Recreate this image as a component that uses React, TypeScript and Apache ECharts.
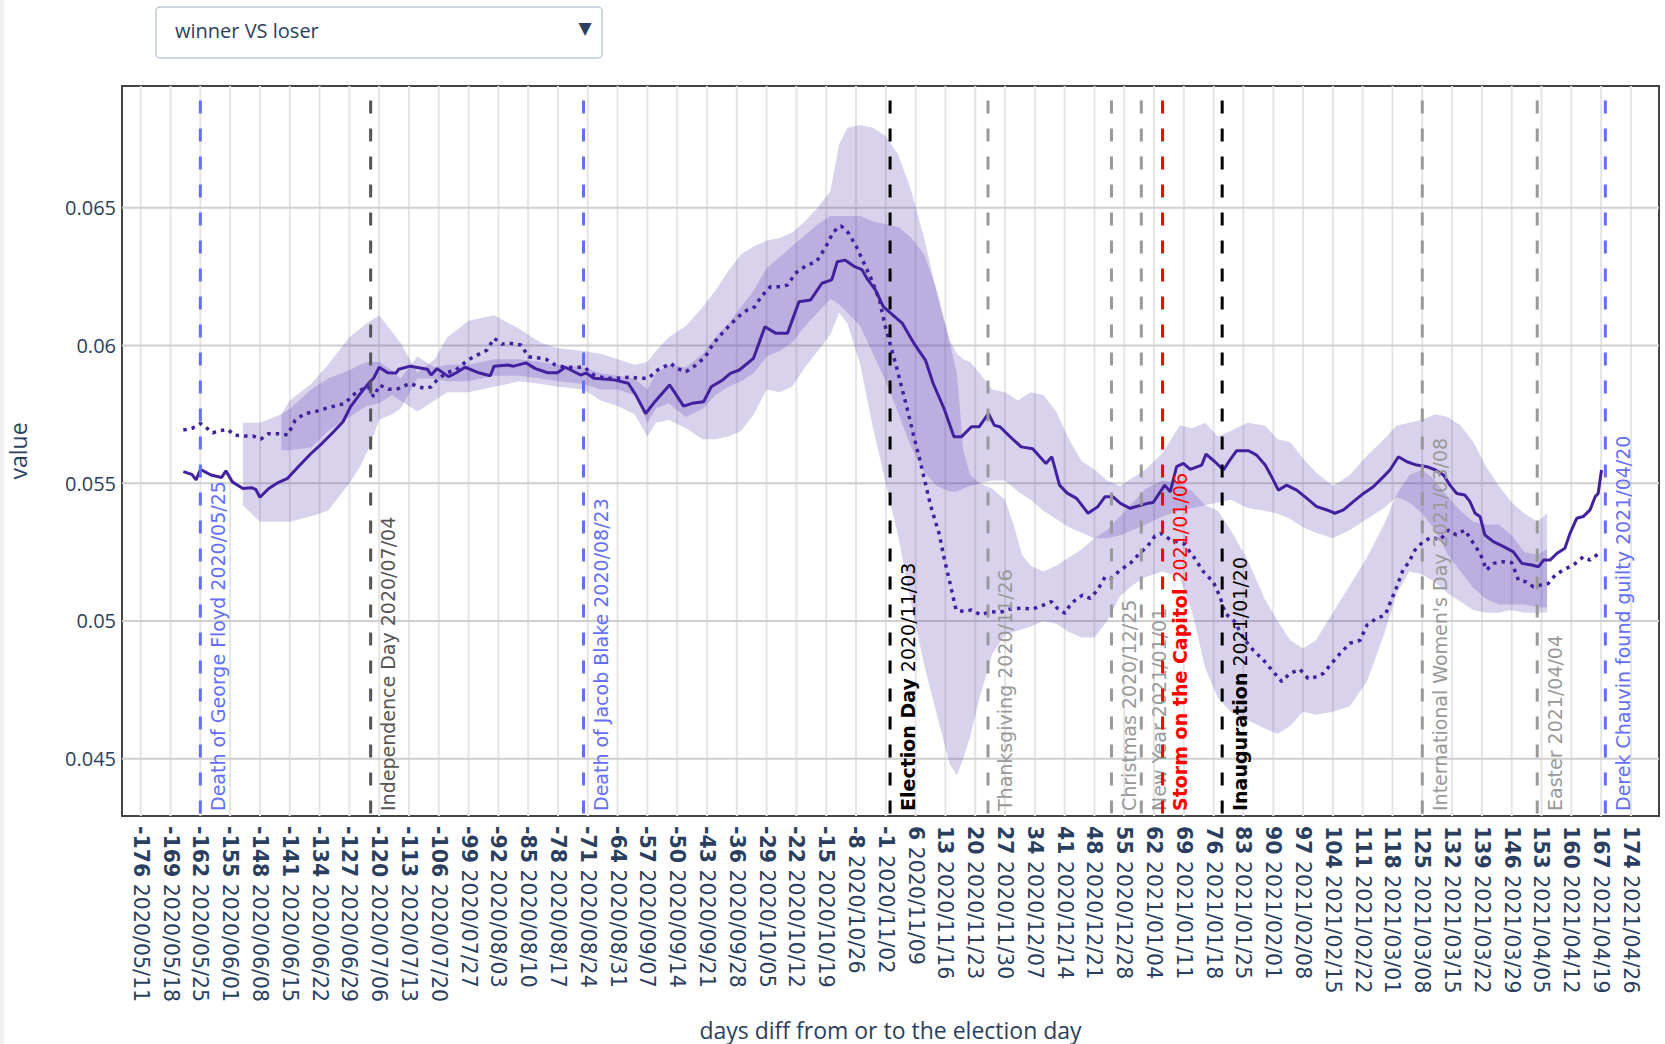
import React, { useEffect, useRef } from "react";
import * as echarts from "echarts";

// ---------- axes ----------
const X_MIN = -180.4;
const X_MAX = 180.6;
const Y_MIN = 0.04292;
const Y_MAX = 0.06942;
const EVENT_TOP = 0.06889;

const xTickDays = [
  -176, -169, -162, -155, -148, -141, -134, -127, -120, -113, -106, -99, -92, -85, -78, -71, -64,
  -57, -50, -43, -36, -29, -22, -15, -8, -1, 6, 13, 20, 27, 34, 41, 48, 55, 62, 69, 76, 83, 90, 97,
  104, 111, 118, 125, 132, 139, 146, 153, 160, 167, 174,
];
const xTickDates = [
  "2020/05/11", "2020/05/18", "2020/05/25", "2020/06/01", "2020/06/08", "2020/06/15", "2020/06/22",
  "2020/06/29", "2020/07/06", "2020/07/13", "2020/07/20", "2020/07/27", "2020/08/03", "2020/08/10",
  "2020/08/17", "2020/08/24", "2020/08/31", "2020/09/07", "2020/09/14", "2020/09/21", "2020/09/28",
  "2020/10/05", "2020/10/12", "2020/10/19", "2020/10/26", "2020/11/02", "2020/11/09", "2020/11/16",
  "2020/11/23", "2020/11/30", "2020/12/07", "2020/12/14", "2020/12/21", "2020/12/28", "2021/01/04",
  "2021/01/11", "2021/01/18", "2021/01/25", "2021/02/01", "2021/02/08", "2021/02/15", "2021/02/22",
  "2021/03/01", "2021/03/08", "2021/03/15", "2021/03/22", "2021/03/29", "2021/04/05", "2021/04/12",
  "2021/04/19", "2021/04/26",
];
const yTickValues = [0.045, 0.05, 0.055, 0.06, 0.065];

// ---------- series: [day, value] ----------
const winnerLine = [
  [-166, 0.05542], [-164, 0.05532], [-163, 0.05512], [-162, 0.0555], [-159.5, 0.0553], [-157, 0.05521],
  [-156, 0.05545], [-154.5, 0.05505], [-152, 0.05481], [-150, 0.05484], [-149, 0.05478], [-148, 0.05449],
  [-146, 0.0548], [-144, 0.055], [-141.5, 0.05518], [-139, 0.0556], [-136, 0.05608], [-133.4, 0.05645],
  [-130.7, 0.05687], [-128.5, 0.05723], [-126.7, 0.05778], [-124.4, 0.05826], [-122.2, 0.05868],
  [-121.3, 0.05881], [-120, 0.05921], [-118, 0.05901], [-116, 0.059], [-115.4, 0.05914], [-112.7, 0.05925],
  [-108.7, 0.05914], [-107.8, 0.05893], [-106.4, 0.05916], [-103.7, 0.05887], [-101.9, 0.05901],
  [-99.8, 0.05921], [-96.6, 0.05901], [-93.9, 0.0589], [-93, 0.05925], [-89.8, 0.05929], [-88.4, 0.05925],
  [-85.5, 0.05937], [-83.3, 0.05916], [-80.4, 0.05901], [-78.1, 0.05901], [-76.3, 0.05921], [-72.7, 0.05893],
  [-71.4, 0.059], [-69.6, 0.05881], [-65.1, 0.05876], [-61.5, 0.05863], [-59.7, 0.0582], [-57.4, 0.05753],
  [-55.2, 0.05797], [-51.8, 0.05857], [-50.6, 0.0583], [-48.5, 0.0578], [-46.5, 0.0579], [-43.8, 0.05796],
  [-42, 0.0585], [-39.3, 0.05875], [-37.5, 0.05899], [-35.4, 0.05911], [-32.1, 0.05953], [-29.4, 0.06068],
  [-26.8, 0.06044], [-24.1, 0.06044], [-21.4, 0.06159], [-18.7, 0.06165], [-16, 0.06226], [-13.7, 0.06238],
  [-12.4, 0.06304], [-10.6, 0.0631], [-8.3, 0.06286], [-6.6, 0.06275], [-5.2, 0.06238], [-3.4, 0.06201],
  [-1.6, 0.06141], [0.2, 0.06117], [2.9, 0.0608], [5.6, 0.06008], [8.3, 0.05947], [10.1, 0.05863],
  [12.8, 0.05766], [15, 0.05669], [16.8, 0.05669], [19.1, 0.05705], [20.9, 0.05705], [23.1, 0.05753],
  [24.5, 0.0571], [25.8, 0.05705], [28.1, 0.0567], [30.8, 0.05632], [33.5, 0.05625], [36.6, 0.05572],
  [38, 0.05596], [39.8, 0.05493], [41.6, 0.05464], [43.8, 0.05445], [46.5, 0.05391], [48.8, 0.05415],
  [50.5, 0.05451], [52.3, 0.05451], [54.1, 0.05427], [56.4, 0.05409], [60.5, 0.05427], [61.8, 0.0543],
  [64.5, 0.05493], [65.8, 0.05469], [67.3, 0.0556], [68.9, 0.05572], [70.5, 0.0555], [73.2, 0.05566],
  [74.2, 0.05606], [76.3, 0.05578], [78.3, 0.05548], [79.8, 0.05584], [81.4, 0.05618], [84.2, 0.05618],
  [86.1, 0.05602], [88.1, 0.05566], [89.6, 0.05524], [91.2, 0.05475], [93.1, 0.05493], [95.5, 0.05475],
  [97.9, 0.05445], [100.2, 0.05415], [102.6, 0.05403], [104.5, 0.05391], [106.5, 0.05403], [108.8, 0.05433],
  [111.2, 0.05463], [113.5, 0.05487], [115.9, 0.05524], [117.4, 0.05548], [119.4, 0.05596], [121.4, 0.05578],
  [123.7, 0.05566], [126.1, 0.0556], [128.1, 0.05548], [130, 0.0553], [131.5, 0.05493], [133.1, 0.05463],
  [135, 0.05457], [136.2, 0.05433], [137.4, 0.05391], [138.6, 0.05378], [139.7, 0.05312], [141.7, 0.05288],
  [144.1, 0.0527], [146.4, 0.05251], [148.4, 0.05209], [150.7, 0.05203], [152.3, 0.05197], [153.5, 0.05221],
  [155, 0.05221], [156.6, 0.05245], [158.5, 0.05264], [159.7, 0.05318], [161.3, 0.05373], [162.8, 0.05379],
  [164.4, 0.05403], [165.6, 0.05451], [166.3, 0.05463], [167.1, 0.05548],
];

const loserLine = [
  [-166, 0.05693], [-164, 0.05699], [-162, 0.05717], [-160.4, 0.05699], [-159.1, 0.05683], [-157.7, 0.0569],
  [-155.5, 0.05695], [-154.1, 0.05675], [-151.4, 0.05671], [-149.6, 0.05671], [-147.8, 0.0566], [-146, 0.0568],
  [-143.3, 0.0568], [-141.5, 0.05675], [-139.7, 0.05729], [-137.5, 0.05753], [-135.2, 0.05759],
  [-132.5, 0.05772], [-129.8, 0.05783], [-128, 0.0579], [-126.2, 0.0582], [-124.4, 0.05838], [-122.6, 0.0585],
  [-121.3, 0.05814], [-119.9, 0.05856], [-117.7, 0.05841], [-115.4, 0.05844], [-112.7, 0.05863],
  [-110.9, 0.0585], [-109.1, 0.05844], [-107.8, 0.0585], [-106.4, 0.05875], [-104.2, 0.05901], [-102, 0.05911],
  [-99.2, 0.05947], [-97, 0.05965], [-94.7, 0.05983], [-93, 0.06026], [-91.2, 0.06005], [-89.4, 0.06008],
  [-86.7, 0.06002], [-84.9, 0.05959], [-83.1, 0.05956], [-80.8, 0.0595], [-78.6, 0.05929], [-76.3, 0.05921],
  [-74.1, 0.05921], [-71.8, 0.05921], [-69.6, 0.05893], [-66.9, 0.05881], [-64.2, 0.05881], [-61.1, 0.05885],
  [-58.8, 0.05881], [-56.8, 0.05881], [-54.6, 0.05911], [-51.5, 0.05935], [-50.1, 0.05917], [-47.9, 0.05905],
  [-45.6, 0.05929], [-43.4, 0.05959], [-42, 0.05995], [-40.2, 0.06032], [-38, 0.06068], [-35.7, 0.06104],
  [-33.5, 0.06129], [-31.7, 0.06141], [-30.3, 0.06177], [-28.1, 0.06213], [-25.8, 0.06213], [-24, 0.0622],
  [-22.3, 0.06262], [-19.5, 0.06292], [-17.3, 0.06304], [-15.1, 0.06358], [-13.3, 0.06413], [-11.5, 0.06434],
  [-9.7, 0.06407], [-7.9, 0.06358], [-6.1, 0.06298], [-4.3, 0.06238], [-2.5, 0.06165], [-1.1, 0.06068],
  [0.2, 0.05995], [1.5, 0.05923], [2.9, 0.05838], [4.3, 0.05753], [5.6, 0.05669], [6.9, 0.0559],
  [8.3, 0.055], [9.5, 0.0542], [11.5, 0.05318], [12.8, 0.05221], [14.1, 0.05136], [15.5, 0.0504],
  [17.3, 0.05034], [19.1, 0.0504], [21.3, 0.05022], [23.6, 0.05034], [25.8, 0.05031], [28.1, 0.05043],
  [30.8, 0.05046], [33.5, 0.05043], [36.1, 0.05058], [37.9, 0.0507], [39.3, 0.05046], [41.1, 0.05028],
  [42.5, 0.05064], [45.2, 0.05094], [47, 0.05082], [48.7, 0.05112], [50.5, 0.0516], [51.9, 0.05155],
  [54.1, 0.05185], [56.4, 0.05209], [58.6, 0.05245], [60.4, 0.0527], [62.2, 0.05308], [63.8, 0.05318],
  [65.9, 0.05294], [68.9, 0.05282], [71.3, 0.05233], [73.6, 0.05179], [75.9, 0.05142], [77.5, 0.05088],
  [78.7, 0.05028], [81, 0.04997], [83, 0.04937], [85.3, 0.04894], [87.7, 0.04858], [90, 0.04816],
  [92, 0.0478], [93.9, 0.0481], [96.3, 0.04824], [98.2, 0.04791], [100.2, 0.04797], [101.8, 0.0481],
  [103.7, 0.04846], [105.7, 0.04882], [108, 0.04919], [110.4, 0.0493], [112, 0.04985], [114.3, 0.0501],
  [116.3, 0.05021], [117.4, 0.05064], [119, 0.05124], [120.6, 0.05191], [121.7, 0.05209], [123.3, 0.05258],
  [125.2, 0.05288], [127.2, 0.05304], [129.2, 0.05294], [131.1, 0.0533], [133, 0.05312], [135, 0.0533],
  [137, 0.05282], [138.6, 0.05245], [140.1, 0.05185], [141.7, 0.05209], [144.1, 0.05215], [146, 0.05212],
  [147.6, 0.05148], [149.5, 0.05142], [151.1, 0.05124], [152.7, 0.0513], [154.6, 0.05136], [156.2, 0.05166],
  [158.1, 0.05185], [160.5, 0.05203], [162.8, 0.05233], [164.4, 0.05221], [166.3, 0.05243],
];

// ---------- confidence bands: [day, lower, upper] ----------
const winnerBand = [
  [-152, 0.0542, 0.0572], [-148, 0.0536, 0.0572], [-143, 0.0536, 0.0575], [-141, 0.0536, 0.0577],
  [-136, 0.0538, 0.0584], [-132, 0.054, 0.0588], [-127, 0.055, 0.0591], [-124.5, 0.0556, 0.0593],
  [-122.6, 0.0562, 0.0594], [-120, 0.0573, 0.0594], [-117, 0.0575, 0.0591], [-115, 0.0577, 0.0588],
  [-111, 0.0588, 0.0596], [-107, 0.0588, 0.0592], [-104, 0.0587, 0.0593], [-99, 0.0587, 0.0593],
  [-93, 0.0589, 0.0595], [-87, 0.0589, 0.0595], [-82, 0.0588, 0.0594], [-78, 0.0587, 0.0593],
  [-72, 0.0586, 0.0592], [-68, 0.0584, 0.059], [-64, 0.0584, 0.0589], [-60, 0.0582, 0.0588],
  [-57, 0.0572, 0.0584], [-55, 0.0577, 0.059], [-52, 0.0579, 0.0593], [-48, 0.0574, 0.0592],
  [-44, 0.0577, 0.0597], [-41, 0.0582, 0.0603], [-38, 0.0585, 0.0608], [-35, 0.0587, 0.0614],
  [-32, 0.059, 0.062], [-29, 0.0596, 0.0628], [-26, 0.0598, 0.0632], [-23, 0.0601, 0.0636],
  [-20, 0.0607, 0.064], [-17, 0.0612, 0.0644], [-14, 0.0617, 0.0647], [-12, 0.0615, 0.0647],
  [-10, 0.0612, 0.0647], [-7, 0.0607, 0.0647], [-4, 0.0597, 0.0645], [-1, 0.0587, 0.0644],
  [2, 0.0575, 0.0643], [5, 0.0563, 0.0639], [8, 0.0554, 0.0633], [11, 0.0549, 0.062],
  [14, 0.0547, 0.0602], [15.7, 0.0547, 0.0597], [17.2, 0.0548, 0.0595], [18.8, 0.0549, 0.0594],
  [21, 0.0550, 0.059], [24, 0.0551, 0.0584], [27, 0.0551, 0.0583], [30, 0.0547, 0.058],
  [33, 0.0544, 0.0583], [36, 0.054, 0.0582], [39, 0.0537, 0.0576], [42, 0.0534, 0.0566],
  [45, 0.0532, 0.0558], [48, 0.053, 0.0555], [51, 0.053, 0.0551], [54, 0.0531, 0.0549],
  [57, 0.0533, 0.0552], [60, 0.0535, 0.0555], [64, 0.0538, 0.0561], [68, 0.054, 0.0571],
  [71, 0.0541, 0.057], [74, 0.0542, 0.0572], [77, 0.0543, 0.0567], [80, 0.0544, 0.0569],
  [84, 0.0541, 0.0572], [88, 0.054, 0.0571], [91, 0.0539, 0.0566], [94, 0.0537, 0.0565],
  [97, 0.0534, 0.0559], [100, 0.0532, 0.0554], [104, 0.053, 0.0549], [108, 0.0533, 0.0553],
  [112, 0.0537, 0.056], [116, 0.0541, 0.0566], [119, 0.0545, 0.0571], [122, 0.0543, 0.0572],
  [125, 0.0539, 0.0573], [128, 0.0533, 0.0575], [131, 0.0524, 0.0574], [134, 0.0518, 0.0571],
  [137, 0.0512, 0.0565], [140, 0.0508, 0.0556], [143, 0.0506, 0.0549], [146, 0.0506, 0.0543],
  [149, 0.0506, 0.0539], [152, 0.0505, 0.0536], [154.3, 0.0505, 0.0539],
];

const loserBand = [
  [-143, 0.0562, 0.0575], [-141, 0.0562, 0.058], [-136, 0.0563, 0.0586], [-132, 0.0569, 0.0593],
  [-127, 0.0574, 0.0603], [-123, 0.0578, 0.0608], [-120, 0.0579, 0.0611], [-117, 0.0582, 0.0605],
  [-115, 0.058, 0.0601], [-111, 0.0576, 0.059], [-107, 0.058, 0.0595], [-104, 0.0583, 0.0603],
  [-99, 0.0583, 0.0609], [-93, 0.0585, 0.0611], [-87, 0.0587, 0.0606], [-82, 0.0586, 0.0601],
  [-78, 0.0585, 0.0599], [-72, 0.0584, 0.0598], [-68, 0.058, 0.0597], [-64, 0.0578, 0.0595],
  [-60, 0.0575, 0.0593], [-57, 0.0567, 0.0594], [-55, 0.0572, 0.0598], [-52, 0.0573, 0.0603],
  [-48, 0.057, 0.0607], [-44, 0.0566, 0.0614], [-41, 0.0566, 0.062], [-38, 0.0567, 0.0627],
  [-35, 0.0569, 0.0633], [-32, 0.0575, 0.0636], [-29, 0.0584, 0.0638], [-26, 0.0583, 0.0639],
  [-23, 0.0585, 0.0641], [-20, 0.0592, 0.0645], [-17, 0.0598, 0.065], [-14, 0.0604, 0.0656],
  [-12, 0.0612, 0.0673], [-10, 0.0608, 0.0679], [-7, 0.0593, 0.068], [-4, 0.057, 0.0679],
  [-1, 0.055, 0.0676], [2, 0.053, 0.0669], [5, 0.0506, 0.0656], [8, 0.0484, 0.0639],
  [11, 0.0466, 0.0619], [14, 0.0448, 0.0601], [15.7, 0.0444, 0.059], [17.2, 0.045, 0.0562],
  [18.8, 0.0458, 0.0553], [21, 0.0472, 0.055], [24, 0.0488, 0.0548], [27, 0.0495, 0.0544],
  [29, 0.0496, 0.0535], [31, 0.0497, 0.0524], [33, 0.0498, 0.052], [36, 0.05, 0.0518], [39, 0.0499, 0.052],
  [42, 0.0496, 0.0523], [45, 0.0494, 0.0526], [48, 0.0494, 0.053], [51, 0.05, 0.0533],
  [54, 0.0509, 0.0538], [57, 0.0513, 0.0543], [60, 0.0516, 0.0548], [64, 0.0518, 0.0551],
  [68, 0.0516, 0.055], [71, 0.0503, 0.0547], [74, 0.0483, 0.0542], [77, 0.0472, 0.054],
  [80, 0.0467, 0.0533], [84, 0.0464, 0.0522], [88, 0.0461, 0.0508], [91, 0.0459, 0.05],
  [94, 0.0462, 0.0493], [97, 0.0467, 0.049], [100, 0.0466, 0.0493], [104, 0.0467, 0.0503],
  [108, 0.0469, 0.0513], [112, 0.0478, 0.0523], [116, 0.0495, 0.0535], [119, 0.051, 0.0546],
  [122, 0.0518, 0.0553], [125, 0.0517, 0.0555], [128, 0.0514, 0.0551], [131, 0.051, 0.0545],
  [134, 0.0507, 0.054], [137, 0.0504, 0.0536], [140, 0.0503, 0.0535], [143, 0.0503, 0.0535],
  [146, 0.0504, 0.0531], [149, 0.0503, 0.0525], [152, 0.0503, 0.0524], [154.3, 0.0503, 0.0526],
];

// ---------- events ----------
const BLUE = "#636efa";
const GRAY = "#999999";
const eventDays = [-162, -122, -72, 0, 23, 52, 59, 64, 78, 125, 152, 168];
const eventBold = ["", "", "", "Election Day", "", "", "", "Storm on the Capitol", "Inauguration", "", "", ""];
const eventText = [
  "Death of George Floyd 2020/05/25",
  "Independence Day 2020/07/04",
  "Death of Jacob Blake 2020/08/23",
  " 2020/11/03",
  "Thanksgiving 2020/11/26",
  "Christmas 2020/12/25",
  "New Year 2021/01/01",
  " 2021/01/06",
  " 2021/01/20",
  "International Women's Day 2021/03/08",
  "Easter 2021/04/04",
  "Derek Chauvin found guilty 2021/04/20",
];
const eventLineColors = [BLUE, "#555555", BLUE, "#000000", GRAY, GRAY, GRAY, "#ff0000", "#000000", GRAY, GRAY, BLUE];
const eventTextColors = [BLUE, "#555555", BLUE, "#000000", GRAY, GRAY, GRAY, "#ff0000", "#000000", GRAY, GRAY, BLUE];

const LINE_COLOR = "#42219e";
const BAND_FILL = "rgba(80, 50, 175, 0.22)";
const TEXT_COLOR = "#2a3f5f";

function bandSeries(band: number[][], name: string) {
  return {
    type: "custom",
    name,
    z: 2,
    silent: true,
    data: [[band[0][0], band[0][1]]],
    encode: { x: 0, y: 1 },
    renderItem: (_params: any, api: any) => {
      const pts: number[][] = [];
      for (let i = 0; i < band.length; i++) pts.push(api.coord([band[i][0], band[i][2]]));
      for (let i = band.length - 1; i >= 0; i--) pts.push(api.coord([band[i][0], band[i][1]]));
      return { type: "polygon", shape: { points: pts }, style: { fill: BAND_FILL } };
    },
  };
}

export default function App() {
  const ref = useRef<HTMLDivElement>(null);

  useEffect(() => {
    if (!ref.current) return;
    const chart = echarts.init(ref.current, null, { renderer: "svg" });

    const option: any = {
      animation: false,
      backgroundColor: "#ffffff",
      grid: {
        left: 122,
        top: 86,
        width: 1537,
        height: 730,
        show: true,
        borderColor: "#444444",
        borderWidth: 2,
        backgroundColor: "transparent",
        containLabel: false,
        outerBoundsMode: "none",
      },
      xAxis: {
        type: "value",
        min: X_MIN,
        max: X_MAX,
        axisLine: { show: false },
        axisTick: { show: false },
        splitLine: { show: false },
        axisLabel: {
          customValues: xTickDays,
          rotate: -90,
          margin: 10,
          hideOverlap: false,
          fontFamily: "DejaVu Sans",
          fontSize: 20.5,
          color: TEXT_COLOR,
          formatter: (v: number) => {
            const i = xTickDays.indexOf(Math.round(v));
            return "{b|" + Math.round(v) + "} " + (i >= 0 ? xTickDates[i] : "");
          },
          rich: {
            b: { fontWeight: "bold", fontFamily: "DejaVu Sans", fontSize: 20.5, color: TEXT_COLOR },
          },
        },
        name: "days diff from or to the election day",
        nameLocation: "middle",
        nameGap: 202,
        nameTextStyle: { fontFamily: "Open Sans", fontSize: 23, color: TEXT_COLOR },
      },
      yAxis: {
        type: "value",
        min: Y_MIN,
        max: Y_MAX,
        axisLine: { show: false },
        axisTick: { show: false },
        splitLine: { show: false },
        axisLabel: {
          customValues: yTickValues,
          margin: 6,
          fontFamily: "Open Sans",
          fontSize: 20,
          color: TEXT_COLOR,
          formatter: (v: number) => String(v),
        },
        name: "value",
        nameLocation: "middle",
        nameRotate: 90,
        nameGap: 93,
        nameTextStyle: { fontFamily: "Open Sans", fontSize: 23, color: TEXT_COLOR },
      },
      graphic: [
        { type: "rect", left: 0, top: 0, shape: { width: 4, height: 1044 }, style: { fill: "#efefef" } },
        {
          type: "rect",
          shape: { x: 156, y: 7, width: 446, height: 51, r: 4 },
          style: { fill: "#ffffff", stroke: "#bec8d9", lineWidth: 1.5 },
        },
        {
          type: "text",
          x: 175,
          y: 30.5,
          style: {
            text: "winner VS loser",
            fill: TEXT_COLOR,
            fontFamily: "Open Sans",
            fontSize: 20,
            verticalAlign: "middle",
            align: "left",
          },
        },
        {
          type: "text",
          x: 585,
          y: 28,
          style: {
            text: "▼",
            fill: TEXT_COLOR,
            fontFamily: "DejaVu Sans",
            fontSize: 17,
            verticalAlign: "middle",
            align: "center",
          },
        },
      ],
      series: [
        {
          type: "custom",
          name: "xgrid",
          z: 0,
          silent: true,
          data: xTickDays.map((d) => [d, Y_MIN]),
          encode: { x: 0, y: 1 },
          renderItem: (_p: any, api: any) => {
            const d = api.value(0);
            const a = api.coord([d, Y_MIN]);
            const b = api.coord([d, Y_MAX]);
            return {
              type: "line",
              shape: { x1: a[0], y1: a[1], x2: b[0], y2: b[1] },
              style: { stroke: "#e5e5e5", lineWidth: 2 },
            };
          },
        },
        {
          type: "custom",
          name: "ygrid",
          z: 0,
          silent: true,
          data: yTickValues.map((v) => [X_MIN, v]),
          encode: { x: 0, y: 1 },
          renderItem: (_p: any, api: any) => {
            const v = api.value(1);
            const a = api.coord([X_MIN, v]);
            const b = api.coord([X_MAX, v]);
            return {
              type: "line",
              shape: { x1: a[0], y1: a[1], x2: b[0], y2: b[1] },
              style: { stroke: "#cfcfcf", lineWidth: 2 },
            };
          },
        },
        bandSeries(winnerBand, "winner band"),
        bandSeries(loserBand, "loser band"),
        {
          type: "line",
          name: "winner",
          z: 3,
          silent: true,
          data: winnerLine,
          showSymbol: false,
          symbol: "none",
          lineStyle: { color: LINE_COLOR, width: 3 },
        },
        {
          type: "line",
          name: "loser",
          z: 3,
          silent: true,
          data: loserLine,
          showSymbol: false,
          symbol: "none",
          lineStyle: { color: LINE_COLOR, width: 3.5, type: [3.5, 5], cap: "butt" },
        },
        {
          type: "custom",
          name: "events",
          z: 5,
          silent: true,
          data: eventDays.map((d) => [d, EVENT_TOP]),
          encode: { x: 0, y: 1 },
          renderItem: (params: any, api: any) => {
            const i = params.dataIndex;
            const d = eventDays[i];
            const top = api.coord([d, EVENT_TOP]);
            const bot = api.coord([d, Y_MIN]);
            const bold = eventBold[i];
            const txt = bold ? "{b|" + bold + "}" + eventText[i] : eventText[i];
            return {
              type: "group",
              children: [
                {
                  type: "line",
                  shape: { x1: top[0], y1: top[1], x2: bot[0], y2: bot[1] },
                  style: { stroke: eventLineColors[i], lineWidth: 3, lineDash: [13, 15] },
                },
                {
                  type: "text",
                  x: bot[0] + 8,
                  y: bot[1] - 5,
                  rotation: Math.PI / 2,
                  style: {
                    text: txt,
                    fill: eventTextColors[i],
                    fontFamily: "DejaVu Sans",
                    fontSize: 19,
                    align: "left",
                    verticalAlign: "top",
                    rich: {
                      b: {
                        fontWeight: "bold",
                        fontFamily: "DejaVu Sans",
                        fontSize: 19,
                        fill: eventTextColors[i],
                      },
                    },
                  },
                },
              ],
            };
          },
        },
      ],
    };

    chart.setOption(option);
    return () => chart.dispose();
  }, []);

  return (
    <div
      ref={ref}
      style={{ position: "fixed", left: 0, top: 0, width: 1665, height: 1044, background: "#ffffff" }}
    />
  );
}
